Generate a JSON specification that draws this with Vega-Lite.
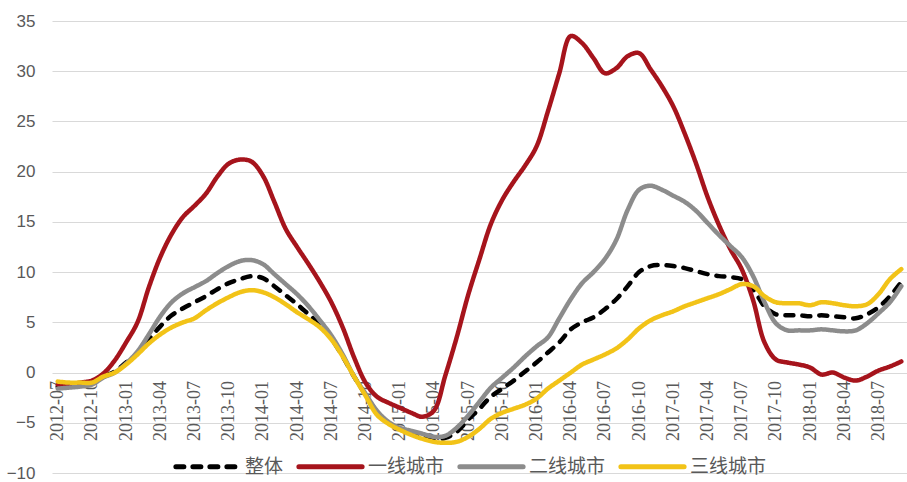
{
  "$schema": "https://vega.github.io/schema/vega-lite/v6.json",
  "width": 855,
  "height": 452,
  "padding": {"left": 52, "top": 21, "right": 0, "bottom": 9},
  "autosize": {"type": "none"},
  "background": "white",
  "config": {
    "view": {"stroke": null},
    "axis": {"gridColor": "#D9D9D9", "gridWidth": 1.2}
  },
  "data": {
    "values": [
      {"m": "2012-07", "整体": -1.4, "一线城市": -1.2, "二线城市": -1.6, "三线城市": -0.9},
      {"m": "2012-08", "整体": -1.4, "一线城市": -1.2, "二线城市": -1.5, "三线城市": -1.0},
      {"m": "2012-09", "整体": -1.3, "一线城市": -1.0, "二线城市": -1.4, "三线城市": -1.0},
      {"m": "2012-10", "整体": -1.1, "一线城市": -0.8, "二线城市": -1.2, "三线城市": -1.0},
      {"m": "2012-11", "整体": -0.4, "一线城市": -0.1, "二线城市": -0.5, "三线城市": -0.4},
      {"m": "2012-12", "整体": 0.1, "一线城市": 1.2, "二线城市": 0.0, "三线城市": 0.0},
      {"m": "2013-01", "整体": 1.0, "一线城市": 3.0, "二线城市": 0.9, "三线城市": 0.8},
      {"m": "2013-02", "整体": 1.9, "一线城市": 5.0, "二线城市": 2.1, "三线城市": 1.8},
      {"m": "2013-03", "整体": 3.3, "一线城市": 8.5, "二线城市": 3.8, "三线城市": 2.9},
      {"m": "2013-04", "整体": 4.6, "一线城市": 11.5, "二线城市": 5.6, "三线城市": 3.8},
      {"m": "2013-05", "整体": 5.7, "一线城市": 13.8, "二线城市": 7.0, "三线城市": 4.5},
      {"m": "2013-06", "整体": 6.4, "一线城市": 15.5, "二线城市": 7.9, "三线城市": 5.0},
      {"m": "2013-07", "整体": 7.0, "一线城市": 16.6, "二线城市": 8.5, "三线城市": 5.4},
      {"m": "2013-08", "整体": 7.6, "一线城市": 17.8, "二线城市": 9.1, "三线城市": 6.2},
      {"m": "2013-09", "整体": 8.3, "一线城市": 19.5, "二线城市": 9.9, "三线城市": 6.9},
      {"m": "2013-10", "整体": 8.9, "一线城市": 20.8, "二线城市": 10.6, "三线城市": 7.5},
      {"m": "2013-11", "整体": 9.3, "一线城市": 21.2, "二线城市": 11.1, "三线城市": 8.0},
      {"m": "2013-12", "整体": 9.6, "一线城市": 21.0, "二线城市": 11.2, "三线城市": 8.2},
      {"m": "2014-01", "整体": 9.4, "一线城市": 19.6, "二线城市": 10.8, "三线城市": 8.0},
      {"m": "2014-02", "整体": 8.6, "一线城市": 17.0, "二线城市": 9.8, "三线城市": 7.5},
      {"m": "2014-03", "整体": 7.7, "一线城市": 14.3, "二线城市": 8.8, "三线城市": 6.8},
      {"m": "2014-04", "整体": 6.8, "一线城市": 12.5, "二线城市": 7.8, "三线城市": 6.0},
      {"m": "2014-05", "整体": 5.8, "一线城市": 10.8, "二线城市": 6.6, "三线城市": 5.3},
      {"m": "2014-06", "整体": 4.8, "一线城市": 9.0, "二线城市": 5.2, "三线城市": 4.5},
      {"m": "2014-07", "整体": 3.4, "一线城市": 7.0, "二线城市": 3.7, "三线城市": 3.3},
      {"m": "2014-08", "整体": 1.6, "一线城市": 4.5, "二线城市": 1.8, "三线城市": 1.6},
      {"m": "2014-09", "整体": -0.4, "一线城市": 1.5, "二线城市": -0.4, "三线城市": -0.4},
      {"m": "2014-10", "整体": -2.2, "一线城市": -1.0, "二线城市": -2.1, "三线城市": -2.3},
      {"m": "2014-11", "整体": -3.9, "一线城市": -2.4, "二线城市": -3.8, "三线城市": -4.2},
      {"m": "2014-12", "整体": -5.0, "一线城市": -3.0, "二线城市": -4.9, "三线城市": -5.1},
      {"m": "2015-01", "整体": -5.6, "一线城市": -3.5, "二线城市": -5.5, "三线城市": -5.7},
      {"m": "2015-02", "整体": -6.0, "一线城市": -4.0, "二线城市": -5.8, "三线城市": -6.2},
      {"m": "2015-03", "整体": -6.3, "一线城市": -4.4, "二线城市": -6.1, "三线城市": -6.6},
      {"m": "2015-04", "整体": -6.6, "一线城市": -3.8, "二线城市": -6.4, "三线城市": -6.9},
      {"m": "2015-05", "整体": -6.5, "一线城市": -0.3, "二线城市": -6.3, "三线城市": -7.0},
      {"m": "2015-06", "整体": -5.9, "一线城市": 3.5, "二线城市": -5.5, "三线城市": -6.9},
      {"m": "2015-07", "整体": -4.7, "一线城市": 7.7, "二线城市": -4.3, "三线城市": -6.4},
      {"m": "2015-08", "整体": -3.6, "一线城市": 11.3, "二线城市": -2.9, "三线城市": -5.6},
      {"m": "2015-09", "整体": -2.4, "一线城市": 14.8, "二线城市": -1.5, "三线城市": -4.6},
      {"m": "2015-10", "整体": -1.6, "一线城市": 17.2, "二线城市": -0.5, "三线城市": -4.0},
      {"m": "2015-11", "整体": -0.8, "一线城市": 19.0, "二线城市": 0.5, "三线城市": -3.6},
      {"m": "2015-12", "整体": 0.1, "一线城市": 20.6, "二线城市": 1.6, "三线城市": -3.2},
      {"m": "2016-01", "整体": 1.0, "一线城市": 22.5, "二线城市": 2.6, "三线城市": -2.6},
      {"m": "2016-02", "整体": 2.0, "一线城市": 26.0, "二线城市": 3.5, "三线城市": -1.6},
      {"m": "2016-03", "整体": 3.0, "一线城市": 29.8, "二线城市": 5.4, "三线城市": -0.8},
      {"m": "2016-04", "整体": 4.3, "一线城市": 33.5, "二线城市": 7.3, "三线城市": 0.0},
      {"m": "2016-05", "整体": 5.0, "一线城市": 32.8, "二线城市": 8.9, "三线城市": 0.8},
      {"m": "2016-06", "整体": 5.5, "一线城市": 31.3, "二线城市": 10.0, "三线城市": 1.3},
      {"m": "2016-07", "整体": 6.3, "一线城市": 29.8, "二线城市": 11.3, "三线城市": 1.8},
      {"m": "2016-08", "整体": 7.3, "一线城市": 30.3, "二线城市": 13.2, "三线城市": 2.4},
      {"m": "2016-09", "整体": 8.6, "一线城市": 31.5, "二线城市": 16.2, "三线城市": 3.3},
      {"m": "2016-10", "整体": 10.0, "一线城市": 31.8, "二线城市": 18.2, "三线城市": 4.4},
      {"m": "2016-11", "整体": 10.6, "一线城市": 30.2, "二线城市": 18.6, "三线城市": 5.2},
      {"m": "2016-12", "整体": 10.7, "一线城市": 28.5, "二线城市": 18.2, "三线城市": 5.7},
      {"m": "2017-01", "整体": 10.6, "一线城市": 26.5, "二线城市": 17.6, "三线城市": 6.1},
      {"m": "2017-02", "整体": 10.4, "一线城市": 23.8, "二线城市": 17.0, "三线城市": 6.6},
      {"m": "2017-03", "整体": 10.1, "一线城市": 20.8, "二线城市": 16.1, "三线城市": 7.0},
      {"m": "2017-04", "整体": 9.8, "一线城市": 17.5, "二线城市": 14.9, "三线城市": 7.4},
      {"m": "2017-05", "整体": 9.6, "一线城市": 14.7, "二线城市": 13.7, "三线城市": 7.8},
      {"m": "2017-06", "整体": 9.5, "一线城市": 12.3, "二线城市": 12.6, "三线城市": 8.3},
      {"m": "2017-07", "整体": 9.3, "一线城市": 10.3, "二线城市": 11.5, "三线城市": 8.8},
      {"m": "2017-08", "整体": 8.3, "一线城市": 7.2, "二线城市": 9.6, "三线城市": 8.6},
      {"m": "2017-09", "整体": 6.6, "一线城市": 3.0, "二线城市": 7.0, "三线城市": 7.6},
      {"m": "2017-10", "整体": 5.8, "一线城市": 1.3, "二线城市": 4.9, "三线城市": 7.0},
      {"m": "2017-11", "整体": 5.7, "一线城市": 1.0, "二线城市": 4.2, "三线城市": 6.9},
      {"m": "2017-12", "整体": 5.7, "一线城市": 0.8, "二线城市": 4.2, "三线城市": 6.9},
      {"m": "2018-01", "整体": 5.6, "一线城市": 0.5, "二线城市": 4.2, "三线城市": 6.7},
      {"m": "2018-02", "整体": 5.7, "一线城市": -0.2, "二线城市": 4.3, "三线城市": 7.0},
      {"m": "2018-03", "整体": 5.6, "一线城市": 0.0, "二线城市": 4.2, "三线城市": 6.9},
      {"m": "2018-04", "整体": 5.5, "一线城市": -0.5, "二线城市": 4.1, "三线城市": 6.7},
      {"m": "2018-05", "整体": 5.4, "一线城市": -0.8, "二线城市": 4.2, "三线城市": 6.6},
      {"m": "2018-06", "整体": 5.8, "一线城市": -0.4, "二线城市": 4.9, "三线城市": 6.8},
      {"m": "2018-07", "整体": 6.5, "一线城市": 0.2, "二线城市": 5.9, "三线城市": 7.8},
      {"m": "2018-08", "整体": 7.6, "一线城市": 0.6, "二线城市": 7.0, "三线城市": 9.3},
      {"m": "2018-09", "整体": 9.0, "一线城市": 1.1, "二线城市": 8.6, "三线城市": 10.3}
    ]
  },
  "transform": [
    {"fold": ["整体", "一线城市", "二线城市", "三线城市"], "as": ["series", "value"]}
  ],
  "mark": {
    "type": "line",
    "interpolate": "catmull-rom",
    "strokeWidth": 4.5,
    "strokeCap": "round",
    "strokeJoin": "round"
  },
  "encoding": {
    "x": {
      "field": "m",
      "type": "ordinal",
      "sort": null,
      "scale": {"type": "point", "padding": 0.5},
      "axis": {
        "title": null,
        "values": ["2012-07", "2012-10", "2013-01", "2013-04", "2013-07", "2013-10", "2014-01", "2014-04", "2014-07", "2014-10", "2015-01", "2015-04", "2015-07", "2015-10", "2016-01", "2016-04", "2016-07", "2016-10", "2017-01", "2017-04", "2017-07", "2017-10", "2018-01", "2018-04", "2018-07"],
        "offset": -100.4,
        "domain": false,
        "ticks": false,
        "grid": false,
        "labelAngle": -90,
        "labelAlign": "right",
        "labelBaseline": "middle",
        "labelPadding": 8,
        "labelFont": "Liberation Serif",
        "labelFontSize": 18,
        "labelColor": "#595959",
        "labelOverlap": false
      }
    },
    "y": {
      "field": "value",
      "type": "quantitative",
      "scale": {"domain": [-10, 35], "nice": false},
      "axis": {
        "title": null,
        "values": [-10, -5, 0, 5, 10, 15, 20, 25, 30, 35],
        "domain": false,
        "ticks": false,
        "grid": true,
        "labelPadding": 17,
        "labelFont": "Liberation Sans",
        "labelFontSize": 17,
        "labelColor": "#595959"
      }
    },
    "color": {
      "field": "series",
      "type": "nominal",
      "scale": {
        "domain": ["整体", "一线城市", "二线城市", "三线城市"],
        "range": ["#000000", "#A6141C", "#8C8C8C", "#F2C318"]
      },
      "legend": {
        "title": null,
        "orient": "none",
        "legendX": 121,
        "legendY": 411,
        "direction": "horizontal",
        "symbolType": "stroke",
        "symbolSize": 4000,
        "symbolStrokeWidth": 5,
        "labelFont": "Noto Sans CJK SC",
        "labelFontSize": 19,
        "labelColor": "#595959",
        "labelOffset": 3,
        "columnPadding": 4,
        "encode": {
          "symbols": {
            "update": {
              "strokeDash": {"signal": "datum.value === '整体' ? [14, 6] : [1, 0]"},
              "strokeCap": {"value": "round"}
            }
          }
        }
      }
    },
    "strokeDash": {
      "field": "series",
      "type": "nominal",
      "scale": {
        "domain": ["整体", "一线城市", "二线城市", "三线城市"],
        "range": [[8, 9], [1, 0], [1, 0], [1, 0]]
      },
      "legend": {
        "title": null,
        "orient": "none",
        "legendX": 121,
        "legendY": 411,
        "direction": "horizontal",
        "symbolType": "stroke",
        "symbolSize": 4000,
        "symbolStrokeWidth": 5,
        "labelFont": "Noto Sans CJK SC",
        "labelFontSize": 19,
        "labelColor": "#595959",
        "labelOffset": 3,
        "columnPadding": 4,
        "encode": {
          "symbols": {
            "update": {
              "strokeDash": {"signal": "datum.value === '整体' ? [14, 6] : [1, 0]"},
              "strokeCap": {"value": "round"}
            }
          }
        }
      }
    }
  }
}
